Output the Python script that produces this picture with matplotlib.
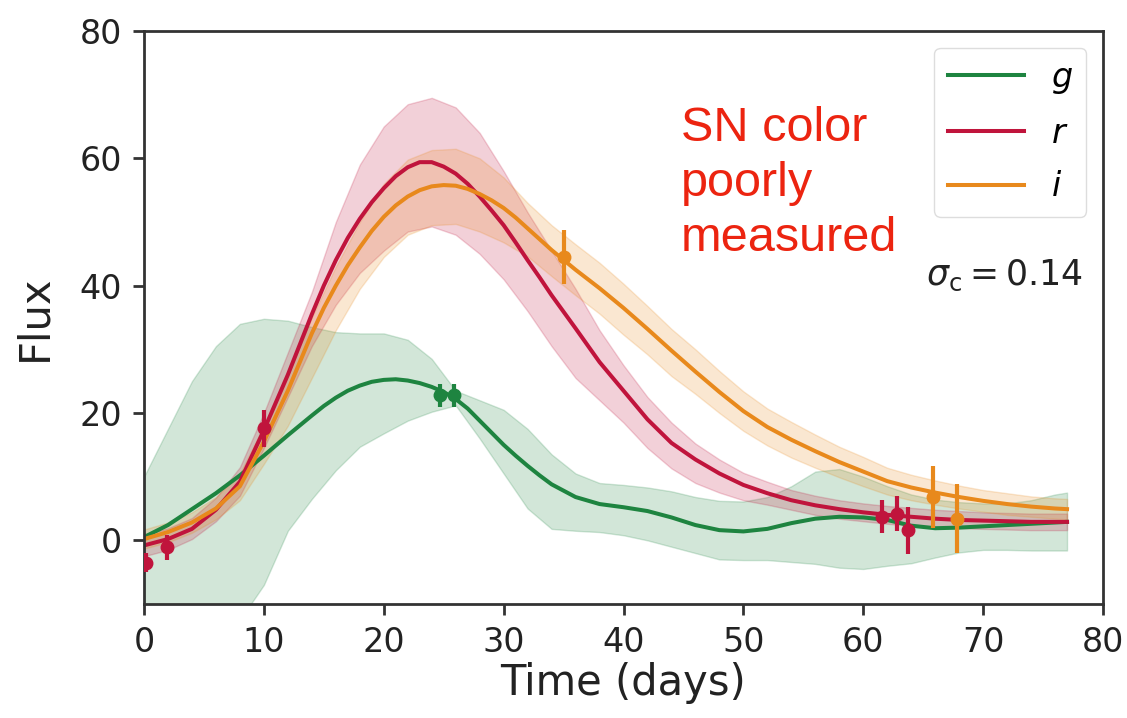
import numpy as np
import matplotlib.pyplot as plt

# grid for the 1-sigma envelopes (days)
t = [0, 2, 4, 6, 8, 10, 12, 14, 16, 18, 20, 22, 24, 26, 28, 30, 32, 34, 36, 38,
     40, 42, 44, 46, 48, 50, 52, 54, 56, 58, 60, 62, 64, 66, 68, 70, 72, 74, 76, 77]
# finer grid for the GP mean curves around the peak
tm = [0, 2, 4, 6, 8, 10, 12, 14,
      15, 16, 17, 18, 19, 20, 21, 22, 23, 24, 25, 26, 27, 28, 29, 30, 31, 32, 33, 34,
      36, 38, 40, 42, 44, 46, 48, 50, 52, 54, 56, 58, 60, 62, 64, 66, 68, 70, 72, 74, 76, 77]

# g band
g_mean = [0.5, 2.4, 4.9, 7.4, 10.2, 13.3, 16.5, 19.6,
          21.1, 22.4, 23.5, 24.3, 24.9, 25.2, 25.3, 25.1, 24.7, 24.1, 23.3, 22.2, 20.7, 18.8, 16.9, 15.0, 13.3, 11.7, 10.2, 8.8,
          6.8, 5.7, 5.2, 4.6, 3.6, 2.4, 1.6, 1.4, 1.8, 2.7, 3.4, 3.7, 3.6, 3.2, 2.3, 1.9, 2.0, 2.2, 2.4, 2.6, 2.8, 2.9]
g_lo = [-20, -20, -19, -16, -12.5, -7.0, 1.5, 6.5, 11.0, 14.7, 16.8, 18.8, 20.2, 21.2, 16.0, 10.5, 5.0, 1.8, 1.5, 1.3,
        0.8, 0.0, -1.0, -2.0, -3.0, -3.1, -3.1, -3.4, -3.7, -4.3, -4.5, -4.0, -3.6, -2.7, -1.9, -1.5, -1.5, -1.6, -1.6, -1.6]
g_hi = [10.0, 17.5, 25.0, 30.5, 34.0, 34.8, 34.5, 33.5, 32.7, 32.5, 32.5, 31.5, 28.5, 23.5, 22.0, 20.5, 17.5, 13.5, 10.5, 9.0,
        8.7, 8.3, 7.7, 6.8, 6.2, 6.1, 6.8, 8.5, 10.8, 11.2, 10.0, 8.5, 7.2, 6.4, 6.0, 5.8, 5.8, 6.3, 7.2, 7.5]

# r band
r_mean = [-0.8, 0.2, 1.8, 4.8, 9.2, 17.3, 26.0, 35.5,
          40.0, 44.0, 47.5, 50.5, 53.1, 55.3, 57.2, 58.6, 59.4, 59.4, 58.7, 57.6, 56.0, 54.0, 51.8, 49.5, 46.8, 44.0, 41.3, 38.5,
          33.3, 28.0, 23.5, 19.0, 15.3, 12.7, 10.5, 8.7, 7.4, 6.3, 5.5, 4.9, 4.4, 4.0, 3.7, 3.4, 3.2, 3.1, 3.0, 2.9, 2.9, 2.9]
r_lo = [-2.5, -1.5, 0.2, 3.0, 7.0, 14.5, 22.5, 30.5, 37.0, 42.0, 45.5, 48.5, 49.3, 48.0, 45.0, 41.0, 36.0, 30.5, 25.5, 22.0,
        18.5, 14.5, 11.3, 9.0, 7.5, 6.3, 5.6, 4.8, 4.0, 3.4, 3.0, 2.6, 2.3, 2.1, 1.9, 1.8, 1.7, 1.6, 1.6, 1.6]
r_hi = [0.9, 1.9, 3.5, 6.7, 11.5, 20.0, 29.5, 39.0, 50.0, 59.0, 65.0, 68.5, 69.5, 68.0, 64.0, 58.0, 51.5, 45.5, 39.5, 33.0,
        27.5, 22.5, 18.5, 15.2, 12.7, 10.6, 9.2, 7.9, 7.0, 6.3, 5.8, 5.4, 5.1, 4.8, 4.6, 4.4, 4.3, 4.2, 4.2, 4.2]

# i band
i_mean = [0.2, 1.3, 2.8, 5.0, 8.5, 15.5, 23.5, 32.5,
          36.5, 40.0, 43.2, 46.0, 48.6, 50.8, 52.6, 54.0, 55.0, 55.6, 55.8, 55.7, 55.2, 54.4, 53.4, 52.2, 50.7, 49.0, 47.3, 45.6,
          42.5, 39.6, 36.5, 33.2, 29.8, 26.5, 23.3, 20.3, 17.8, 15.8, 14.0, 12.3, 10.8, 9.3, 8.3, 7.5, 6.8, 6.2, 5.7, 5.3, 5.0, 4.9]
i_lo = [-1.3, -0.3, 1.2, 3.3, 6.3, 12.0, 18.0, 25.5, 33.0, 39.5, 44.5, 48.0, 49.5, 49.7, 48.5, 46.8, 44.6, 41.5, 38.5, 35.6,
        32.3, 29.2, 25.8, 23.0, 20.0, 17.2, 14.9, 13.0, 11.4, 9.9, 8.5, 7.2, 6.3, 5.6, 5.0, 4.5, 4.0, 3.7, 3.4, 3.3]
i_hi = [1.7, 2.8, 4.4, 6.8, 10.5, 18.0, 26.0, 35.0, 43.0, 50.0, 56.0, 59.8, 61.3, 61.5, 60.0, 57.0, 53.0, 49.5, 46.5, 43.6,
        40.3, 36.8, 33.2, 30.0, 26.6, 23.4, 20.7, 18.6, 16.6, 14.7, 13.1, 11.4, 10.3, 9.4, 8.6, 7.9, 7.4, 6.9, 6.6, 6.5]

# observations
g_obs_t = [24.7, 25.9]
g_obs_f = [22.8, 22.8]
g_obs_e = [1.8, 1.8]
r_obs_t = [0.2, 1.9, 10.0, 61.6, 62.8, 63.7]
r_obs_f = [-3.5, -1.1, 17.6, 3.7, 4.2, 1.6]
r_obs_e = [1.5, 2.0, 2.9, 2.6, 2.8, 3.7]
i_obs_t = [35.0, 65.8, 67.8]
i_obs_f = [44.5, 6.8, 3.4]
i_obs_e = [4.2, 4.8, 5.4]

bands = [
    ("g", "#1e8440", g_mean, g_lo, g_hi, g_obs_t, g_obs_f, g_obs_e),
    ("r", "#c0143c", r_mean, r_lo, r_hi, r_obs_t, r_obs_f, r_obs_e),
    ("i", "#e8891c", i_mean, i_lo, i_hi, i_obs_t, i_obs_f, i_obs_e),
]

plt.rcParams["font.family"] = "DejaVu Sans"
fig = plt.figure(figsize=(11.27, 7.18), dpi=100)
ax = fig.add_axes([144 / 1127, 114 / 718, 959 / 1127, 573 / 718])

for name, col, mean, lo, hi, ot, of, oe in bands:
    ax.fill_between(t, lo, hi, color=col, alpha=0.2, lw=1)
for name, col, mean, lo, hi, ot, of, oe in bands:
    ax.plot(tm, mean, color=col, lw=2.9, label=f"${name}$", solid_joinstyle="round")
for name, col, mean, lo, hi, ot, of, oe in bands:
    ax.errorbar(ot, of, yerr=oe, fmt="o", color=col, ms=9, elinewidth=3, capsize=0, zorder=4)

ax.set_xlim(0, 80)
ax.set_ylim(-10, 80)
ax.set_xticks(range(0, 81, 10))
ax.set_yticks(range(0, 81, 20))
ax.set_xlabel("Time (days)", fontsize=30, color="#222222", labelpad=2)
ax.set_ylabel("Flux", fontsize=30, color="#222222", labelpad=17)
ax.tick_params(labelsize=24, width=2, length=8, color="#333333", labelcolor="#222222", pad=8)
for s in ax.spines.values():
    s.set_linewidth(2)
    s.set_color("#333333")

leg = ax.legend(loc="upper right", fontsize=24, handlelength=2.3, labelspacing=0.62,
                borderaxespad=0.5, framealpha=1, fancybox=True)
leg.get_frame().set_edgecolor("#dddddd")
for line in leg.get_lines():
    line.set_linewidth(2.9)

ax.text(0.979, 0.574, r"$\sigma_{\rm c} = 0.14$", transform=ax.transAxes,
        ha="right", va="center", fontsize=25, color="#222222")

fig.text(681 / 1127, 1 - 106 / 718, "SN color\npoorly\nmeasured", ha="left", va="top",
         fontsize=35, color="#ec2410", family="Liberation Sans", linespacing=1.28)

fig.savefig("out.png", dpi=100)
